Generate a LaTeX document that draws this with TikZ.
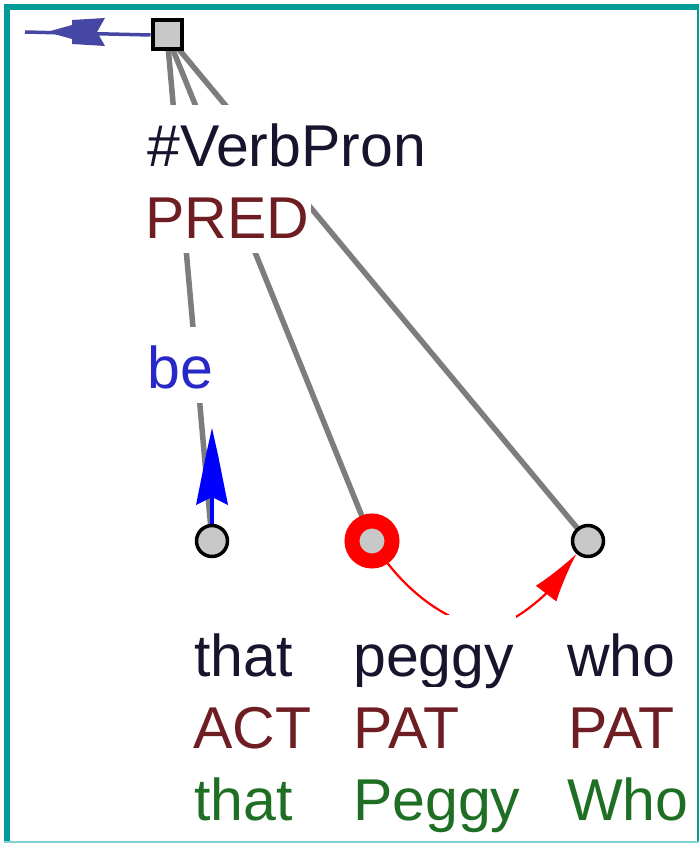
\documentclass[tikz,border=0pt]{standalone}
\usepackage{fontspec}
\setmainfont{Liberation Sans}
\usetikzlibrary{arrows.meta,calc}
\pgfdeclarelayer{bg}
\pgfsetlayers{bg,main}
\definecolor{teal1}{RGB}{0,155,150}
\definecolor{teal2}{RGB}{130,210,210}
\definecolor{edgegray}{RGB}{125,125,125}
\definecolor{nodegray}{RGB}{200,200,200}
\definecolor{maroon1}{RGB}{110,30,35}
\definecolor{blue1}{RGB}{40,40,200}
\definecolor{blue2}{RGB}{0,0,255}
\definecolor{blue3}{RGB}{70,70,165}
\definecolor{green1}{RGB}{30,110,35}
\definecolor{dark1}{RGB}{25,20,45}
\definecolor{red1}{RGB}{255,0,0}
\begin{document}
\begin{tikzpicture}[x=1pt,y=-1pt,
  lab/.style={anchor=base west, fill=white, inner xsep=2pt, inner ysep=1pt,
    text height=60pt, text depth=14pt, font=\fontsize{59pt}{72pt}\selectfont},
  rootbox/.style={draw=black, line width=4pt, fill=nodegray, minimum size=29pt, inner sep=0pt},
  leaf/.style={circle, draw=black, line width=3.5pt, fill=nodegray, minimum size=31pt, inner sep=0pt},
  hilite/.style={circle, draw=red1, line width=15pt, fill=nodegray, minimum size=40pt, inner sep=0pt},
  edge/.style={draw=edgegray, line width=5.5pt}]
\useasboundingbox (0,0) rectangle (700,843);
% frame
\fill[teal1] (4,4) rectangle (10,843);
\fill[teal1] (4,4) rectangle (699,10);
\fill[teal1] (697,4) rectangle (699,843);
\fill[teal2] (4,841) rectangle (699,843);
% nodes
\node[rootbox] (sq) at (167,35) {};
\node[leaf] (n1) at (212,541) {};
\node[hilite] (n2) at (372,541) {};
\node[leaf] (n3) at (588,541) {};
\coordinate (tl) at (25,32);
\coordinate (tlt) at (47,32);
\coordinate (bt) at (212,428);
\coordinate (bb) at (212,497);
\coordinate (rc) at (485,628);
% labels
\node[lab, text=dark1] (l1) at (145,166) {\#VerbPron};
\node[lab, text=maroon1] (l2) at (143,238) {PRED};
\node[lab, text=blue1] (l3) at (145,388) {be};
\node[lab, text=dark1] (a1) at (192,676) {that};
\node[lab, text=maroon1] (a2) at (191,748) {ACT};
\node[lab, text=green1] (a3) at (192,820) {that};
\node[lab, text=dark1] (b1) at (351,676) {peggy};
\node[lab, text=maroon1] (b2) at (351,748) {PAT};
\node[lab, text=green1] (b3) at (351,820) {Peggy};
\node[lab, text=dark1] (c1) at (565,676) {who};
\node[lab, text=maroon1] (c2) at (566,748) {PAT};
\node[lab, text=green1] (c3) at (565,820) {Who};
% connectors
\begin{pgfonlayer}{bg}
\draw[edge] (sq.center) -- (n1.center);
\draw[edge] (sq.center) -- (n2.center);
\draw[edge] (sq.center) -- (n3.center);
\draw[blue3, line width=3.5pt] (sq.west) -- (tl);
\fill[blue3, shift={(tlt)}] (0,0) -- (25,-7) -- (25,-12) -- (58,-14) -- (50,0) -- (58,14) -- (25,12) -- (25,7) -- cycle;
\draw[blue2, line width=3.5pt] (n1.north) -- (bb);
\fill[blue2, shift={(bt)}] (0,0) -- (6,27) -- (9,42) -- (16,77) -- (0,69) -- (-16,77) -- (-9,42) -- (-6,27) -- cycle;
\draw[red1, line width=2.2pt, -{Latex[length=50pt,width=26pt]}]
  (n2.-55) .. controls (415,598) and (450,622) .. (rc)
  .. controls (510,628) and (545,595) .. (n3.-132);
\end{pgfonlayer}
\end{tikzpicture}
\end{document}
